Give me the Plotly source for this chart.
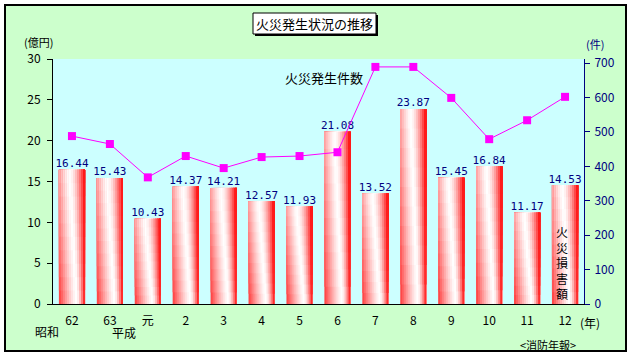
import plotly.graph_objects as go

# ---- data ----
categories = ["62", "63", "元", "2", "3", "4", "5", "6", "7", "8", "9", "10", "11", "12"]
damage_oku_yen = [16.44, 15.43, 10.43, 14.37, 14.21, 12.57, 11.93, 21.08, 13.52, 23.87, 15.45, 16.84, 11.17, 14.53]
fire_counts = [488, 465, 368, 430, 395, 427, 430, 441, 689, 689, 599, 479, 534, 602]
left_ticks = [0, 5, 10, 15, 20, 25, 30]
right_ticks = [0, 100, 200, 300, 400, 500, 600, 700]

# ---- layout geometry (pixels) ----
W_PX, H_PX = 634, 358
L, R, T, B = 53, 584, 59, 304
PW, PH = R - L, B - T


def px(x):
    return (x - L) / PW


def py(y):
    return (B - y) / PH


JP = "Noto Sans CJK JP"
MONO = "DejaVu Sans Mono"
NAVY = "#000080"

fig = go.Figure()

# ---- gradient bars: overlapping slices (left->right) and segments (bottom->top) ----
N_SLICES = 13
N_SEG = 10
BAR_W = 0.69
sw = BAR_W / N_SLICES


def shade(t, v):
    c = 0.68 - 0.30 * v
    if t < c:
        i = 0.8 * ((c - t) / 0.68) ** 1.3
    else:
        i = ((t - c) / (1 - c)) ** 1.6
    i = max(0.0, min(1.0, i))
    g = round(255 * (1 - i))
    return f"rgb(255,{g},{g})"


for s in range(N_SLICES):
    t = (s + 0.5) / N_SLICES
    for k in range(N_SEG):
        v = (k + 0.5) / N_SEG
        fig.add_trace(go.Bar(
            x=categories,
            y=[val * (N_SEG - k) / N_SEG for val in damage_oku_yen],
            base=[val * k / N_SEG for val in damage_oku_yen],
            width=BAR_W - s * sw,
            offset=-BAR_W / 2 + s * sw,
            marker=dict(color=shade(t, v), line=dict(width=0)),
            hoverinfo="skip",
            showlegend=False,
        ))

# value labels above bars
fig.add_trace(go.Scatter(
    x=categories, y=damage_oku_yen, mode="text",
    text=[f"{v:.2f}" for v in damage_oku_yen],
    textposition="top center",
    textfont=dict(family=MONO, size=11, color=NAVY),
    hoverinfo="skip", showlegend=False,
))

# fire count line
fig.add_trace(go.Scatter(
    x=categories, y=fire_counts, yaxis="y2", mode="lines+markers",
    line=dict(color="#ff00ff", width=1),
    marker=dict(symbol="square", size=8, color="#ff00ff"),
    hoverinfo="skip", showlegend=False,
))

shapes = [
    # outer green panel with black border
    dict(type="rect", xref="paper", yref="paper", layer="below",
         x0=px(5), x1=px(626), y0=py(351), y1=py(5),
         fillcolor="#ccffcc", line=dict(color="black", width=2)),
    # plot area background
    dict(type="rect", xref="paper", yref="paper", layer="below",
         x0=0, x1=1, y0=0, y1=1, fillcolor="#ccffff", line=dict(width=0)),
    # title shadow
    dict(type="rect", xref="paper", yref="paper", layer="below",
         x0=px(255), x1=px(378), y0=py(36), y1=py(15),
         fillcolor="black", line=dict(width=0)),
    # title box
    dict(type="rect", xref="paper", yref="paper", layer="below",
         x0=px(253), x1=px(376), y0=py(34), y1=py(13),
         fillcolor="white", line=dict(color="black", width=1)),
]


def ann(text, x, y, size=12, color="black", family=JP, xanchor="center"):
    return dict(text=text, xref="paper", yref="paper", x=px(x), y=py(y),
                xanchor=xanchor, yanchor="middle", showarrow=False,
                font=dict(family=family, size=size, color=color))


annotations = [
    ann("火災発生状況の推移", 314.5, 23.5, size=13),
    ann("(億円)", 38, 42, size=11),
    ann("(件)", 595, 44, size=11, color=NAVY),
    ann("火災発生件数", 324, 77, size=13),
    ann("昭和", 47, 331, size=12),
    ann("平成", 124, 332, size=12),
    ann("(年)", 590, 322, size=12),
    ann("<消防年報>", 548, 345, size=11),
    ann("火<br>災<br>損<br>害<br>額", 562, 262, size=12),
]

fig.update_layout(
    width=W_PX, height=H_PX, autosize=False,
    margin=dict(l=L, r=W_PX - R, t=T, b=H_PX - B, pad=0),
    paper_bgcolor="white", plot_bgcolor="rgba(0,0,0,0)",
    barmode="overlay", showlegend=False,
    shapes=shapes, annotations=annotations,
    font=dict(family=JP, size=12, color="black"),
    xaxis=dict(type="category", range=[-0.5, len(categories) - 0.5],
               showline=True, linecolor="black", linewidth=1,
               ticks="", showgrid=False, zeroline=False,
               ticklabelstandoff=6,
               tickfont=dict(family=JP, size=12, color="black")),
    yaxis=dict(range=[0, 30], tickvals=left_ticks,
               showline=True, linecolor="black", linewidth=1,
               ticks="outside", ticklen=5, tickcolor="black",
               showgrid=False, zeroline=False,
               ticklabelstandoff=4,
               tickfont=dict(family=JP, size=12, color="black")),
    yaxis2=dict(range=[0, 712], tickvals=right_ticks, overlaying="y", side="right",
                showline=True, linecolor=NAVY, linewidth=1,
                ticks="outside", ticklen=5, tickcolor=NAVY,
                showgrid=False, zeroline=False,
                ticklabelstandoff=2,
                tickfont=dict(family=JP, size=12, color=NAVY)),
)

fig.write_html("out.html", config={"displayModeBar": False},
               post_script="document.body.style.margin='0';")
